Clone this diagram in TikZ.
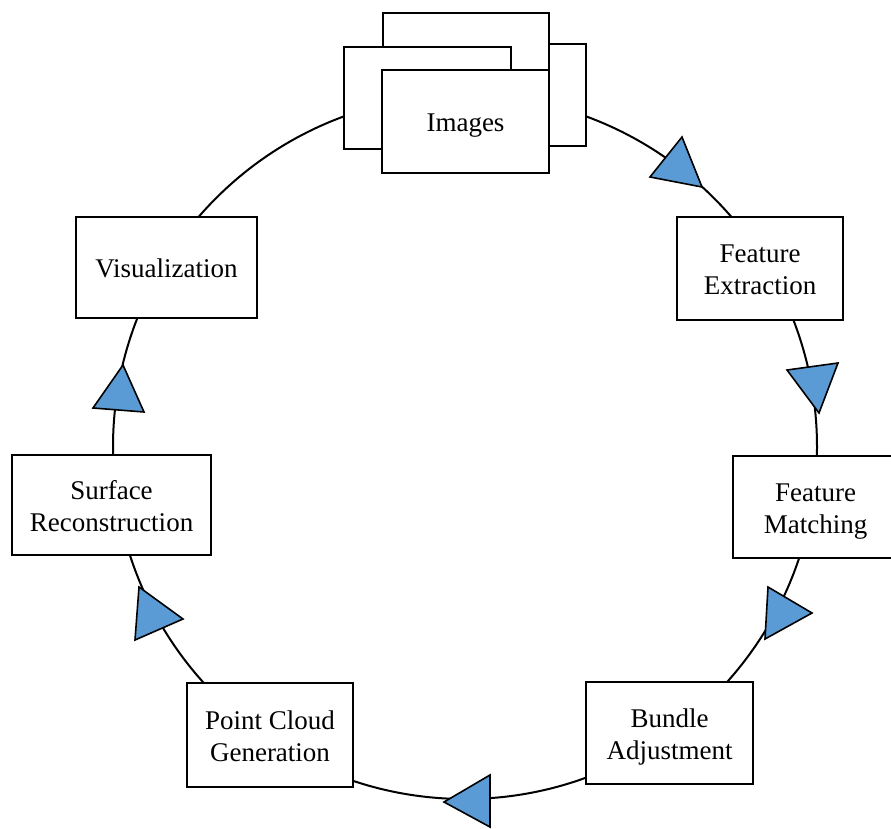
\documentclass[tikz,border=0pt]{standalone}
\usepackage{fontspec}
\setmainfont{Liberation Serif}
\definecolor{arrowblue}{HTML}{5B9BD5}
\newcommand\lnstrut{\rule[-6pt]{0pt}{32pt}}
\begin{document}
\begin{tikzpicture}[x=1pt,y=-1pt,
  box/.style={draw=black, line width=2.4pt, fill=white, rectangle, align=center,
    inner sep=0pt, font=\fontsize{27}{32}\selectfont},
  ring/.style={draw=black, line width=2pt},
  headtri/.style={draw=black, line width=1.6pt, fill=arrowblue, line join=miter}]
\useasboundingbox (0,0) rectangle (891,829);
\clip (0,0) rectangle (891,829);
% cycle ring
\coordinate (ctr) at (465,447);
\draw[ring] (ctr) circle[radius=352pt];
% arrowheads
\fill[headtri] (682,137) -- (650,177) -- (702,187) -- cycle;
\fill[headtri] (787,370) -- (838,363) -- (819,413) -- cycle;
\fill[headtri] (768,587) -- (812,613) -- (765,639) -- cycle;
\fill[headtri] (490,775) -- (444,802) -- (490,827) -- cycle;
\fill[headtri] (139,587) -- (183,619) -- (135,640) -- cycle;
\fill[headtri] (123,365) -- (93,408) -- (144,412) -- cycle;
% image stack
\node[box, minimum width=167pt, minimum height=102pt] (imgR) at (502.5,95) {};
\node[box, minimum width=166pt, minimum height=103pt] (imgT) at (466,64.5) {};
\node[box, minimum width=167pt, minimum height=102pt] (imgL) at (427.5,98) {};
\node[box, minimum width=167pt, minimum height=103pt] (img) at (465.5,121.5) {\lnstrut Images};
% process steps
\node[box, minimum width=166pt, minimum height=103pt] (fe) at (760,268.5) {\lnstrut Feature\\\lnstrut Extraction};
\node[box, minimum width=165pt, minimum height=102pt] (fm) at (815.5,507) {\lnstrut Feature\\\lnstrut Matching};
\node[box, minimum width=167pt, minimum height=102pt] (ba) at (669.5,733) {\lnstrut Bundle\\\lnstrut Adjustment};
\node[box, minimum width=166pt, minimum height=104pt] (pcg) at (270,735) {\lnstrut Point Cloud\\\lnstrut Generation};
\node[box, minimum width=199pt, minimum height=100pt] (sr) at (111.5,505) {\lnstrut Surface\\\lnstrut Reconstruction};
\node[box, minimum width=181pt, minimum height=101pt] (vis) at (166.5,267.5) {\lnstrut Visualization};
\end{tikzpicture}
\end{document}
